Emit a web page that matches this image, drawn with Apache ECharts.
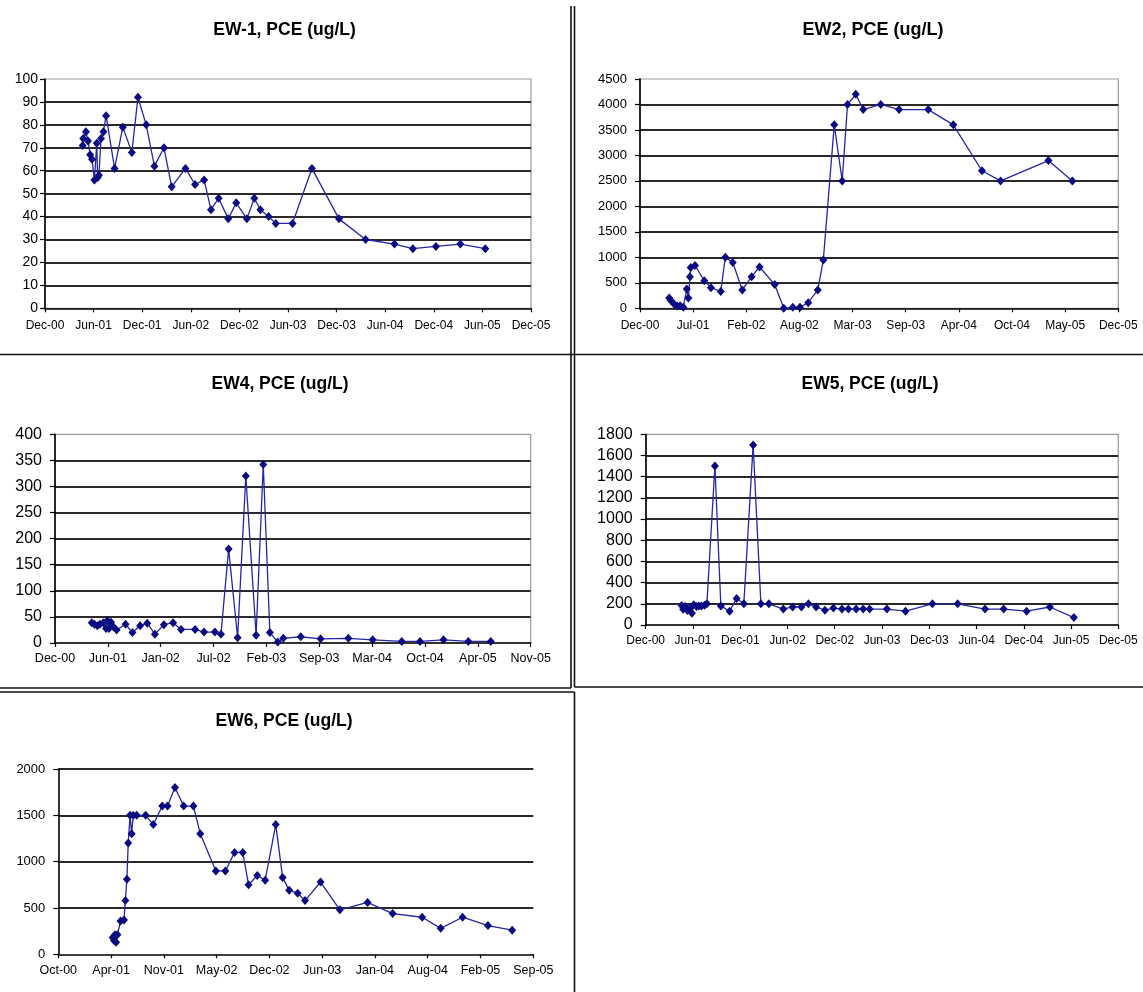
<!DOCTYPE html>
<html>
<head>
<meta charset="utf-8">
<title>PCE concentrations in extraction wells</title>
<script src="https://cdn.jsdelivr.net/npm/echarts@6/dist/echarts.min.js"></script>
<style>
  html, body { margin: 0; padding: 0; background: #fff; }
  #chart { width: 1143px; height: 992px; }
</style>
</head>
<body>
<div id="chart"></div>
<script>
// ---- Sample dates and PCE concentrations (ug/L) for each extraction well ----
const ew1Dates = ['2001-05-06','2001-05-08','2001-05-18','2001-05-26','2001-06-03','2001-06-10','2001-06-19','2001-06-28','2001-07-01','2001-07-06','2001-07-14','2001-07-23','2001-08-02','2001-09-03','2001-10-04','2001-11-07','2001-11-30','2001-12-31','2002-01-31','2002-03-08','2002-04-06','2002-05-28','2002-07-03','2002-08-06','2002-09-01','2002-09-30','2002-11-05','2002-12-05','2003-01-14','2003-02-11','2003-03-06','2003-04-06','2003-05-03','2003-07-05','2003-09-16','2003-12-27','2004-04-05','2004-07-23','2004-09-30','2004-12-26','2005-03-28','2005-06-30'];
const ew1Pce = [71,74,77,73,67,65,56,72,57,58,74,77,84,61,79,68,92,80,62,70,53,61,54,56,43,48,39,46,39,48,43,40,37,37,61,39,30,28,26,27,28,26];

const ew2Dates = ['2001-04-18','2001-04-25','2001-05-06','2001-05-18','2001-05-29','2001-06-10','2001-06-23','2001-06-29','2001-07-05','2001-07-08','2001-07-24','2001-08-28','2001-09-22','2001-10-29','2001-11-15','2001-12-13','2002-01-18','2002-02-22','2002-03-24','2002-05-20','2002-06-23','2002-07-27','2002-08-23','2002-09-23','2002-10-29','2002-11-19','2002-12-30','2003-01-29','2003-02-18','2003-03-21','2003-04-18','2003-06-23','2003-08-31','2003-12-19','2004-03-22','2004-07-08','2004-09-16','2005-03-15','2005-06-13'];
const ew2Pce = [200,150,85,45,50,20,380,200,620,800,840,540,405,330,1000,900,360,620,810,465,0,20,20,110,360,950,3600,2500,4000,4200,3900,4000,3900,3900,3600,2700,2500,2900,2500];

const ew4Dates = ['2001-04-24','2001-05-04','2001-05-15','2001-05-25','2001-06-07','2001-06-17','2001-06-22','2001-06-28','2001-07-06','2001-07-15','2001-07-27','2001-08-30','2001-09-25','2001-10-24','2001-11-20','2001-12-19','2002-01-22','2002-02-26','2002-03-28','2002-05-20','2002-06-23','2002-08-03','2002-08-26','2002-09-24','2002-10-28','2002-11-28','2003-01-06','2003-02-02','2003-02-27','2003-03-29','2003-04-19','2003-06-24','2003-09-07','2003-12-21','2004-03-22','2004-07-10','2004-09-17','2004-12-15','2005-03-19','2005-06-12'];
const ew4Pce = [39,36,33,36,39,28,43,28,40,31,25,36,20,33,38,17,35,39,26,26,21,21,17,180,10,320,15,342,20,2,9,12,8,9,6,3,3,6,3,3];

const ew5Dates = ['2001-05-03','2001-05-09','2001-05-17','2001-05-25','2001-06-04','2001-06-12','2001-06-19','2001-06-30','2001-07-09','2001-07-19','2001-07-31','2001-08-09','2001-09-09','2001-10-02','2001-11-05','2001-12-02','2001-12-30','2002-02-04','2002-03-06','2002-04-06','2002-06-01','2002-07-07','2002-08-10','2002-09-06','2002-10-06','2002-11-09','2002-12-12','2003-01-14','2003-02-08','2003-03-10','2003-04-06','2003-05-01','2003-07-07','2003-09-17','2003-12-30','2004-04-06','2004-07-21','2004-10-01','2004-12-29','2005-03-29','2005-06-30'];
const ew5Pce = [183,148,174,136,158,110,190,174,180,180,186,200,1500,180,130,250,200,1700,200,200,150,170,170,200,170,140,160,150,150,150,150,150,150,130,200,200,150,150,130,170,70];

const ew6Dates = ['2001-04-26','2001-05-01','2001-05-05','2001-05-09','2001-05-14','2001-05-26','2001-06-08','2001-06-13','2001-06-19','2001-06-24','2001-07-01','2001-07-07','2001-07-13','2001-07-26','2001-08-29','2001-09-27','2001-10-31','2001-11-20','2001-12-18','2002-01-20','2002-02-26','2002-03-24','2002-05-22','2002-06-27','2002-08-01','2002-09-01','2002-09-23','2002-10-26','2002-11-25','2003-01-04','2003-01-30','2003-02-24','2003-03-28','2003-04-25','2003-06-23','2003-09-04','2003-12-18','2004-03-22','2004-07-12','2004-09-20','2004-12-12','2005-03-18','2005-06-18'];
const ew6Pce = [180,150,210,130,210,360,370,580,810,1200,1500,1300,1500,1500,1500,1400,1600,1600,1800,1600,1600,1300,900,900,1100,1100,750,850,800,1400,830,690,660,580,780,480,560,440,400,280,400,310,260];

// ---- Date-axis tick labels (each axis starts at its first tick, fixed day step) ----
const ew1Ticks = ['Dec-00','Jun-01','Dec-01','Jun-02','Dec-02','Jun-03','Dec-03','Jun-04','Dec-04','Jun-05','Dec-05'];
const ew2Ticks = ['Dec-00','Jul-01','Feb-02','Aug-02','Mar-03','Sep-03','Apr-04','Oct-04','May-05','Dec-05'];
const ew4Ticks = ['Dec-00','Jun-01','Jan-02','Jul-02','Feb-03','Sep-03','Mar-04','Oct-04','Apr-05','Nov-05'];
const ew5Ticks = ['Dec-00','Jun-01','Dec-01','Jun-02','Dec-02','Jun-03','Dec-03','Jun-04','Dec-04','Jun-05','Dec-05'];
const ew6Ticks = ['Oct-00','Apr-01','Nov-01','May-02','Dec-02','Jun-03','Jan-04','Aug-04','Feb-05','Sep-05'];

const ew1AxisStart = '2000-12-15', ew1StepDays = 183;
const ew2AxisStart = '2000-12-29', ew2StepDays = 200;
const ew4AxisStart = '2000-12-06', ew4StepDays = 200;
const ew5AxisStart = '2000-12-15', ew5StepDays = 183;
const ew6AxisStart = '2000-10-02', ew6StepDays = 200;

// concentration axes: [max, step]
const ew1YAxis = [100, 10];
const ew2YAxis = [4500, 500];
const ew4YAxis = [400, 50];
const ew5YAxis = [1800, 200];
const ew6YAxis = [2000, 500];

// ---- Layout of the five panels ----
const FONT = '"Liberation Sans", Arial, Helvetica, sans-serif';
const DAY = 86400000;

const panels = [
  { title: 'EW-1, PCE (ug/L)', dates: ew1Dates, pce: ew1Pce, ticks: ew1Ticks, start: ew1AxisStart, step: ew1StepDays, y: ew1YAxis,
    grid: [45, 79, 486, 229.3], frame: true, yFont: 14, yMargin: 7, xFont: 12, xMargin: 11,
    titlePos: [279.5, 16], titleSize: 17.5 },
  { title: 'EW2, PCE (ug/L)', dates: ew2Dates, pce: ew2Pce, ticks: ew2Ticks, start: ew2AxisStart, step: ew2StepDays, y: ew2YAxis,
    grid: [640, 79, 478.3, 229.3], frame: true, yFont: 13, yMargin: 13, xFont: 12, xMargin: 11,
    titlePos: [868, 16], titleSize: 18 },
  { title: 'EW4, PCE (ug/L)', dates: ew4Dates, pce: ew4Pce, ticks: ew4Ticks, start: ew4AxisStart, step: ew4StepDays, y: ew4YAxis,
    grid: [55, 434.3, 475.7, 208.7], frame: true, yFont: 16, yMargin: 13, xFont: 12.5, xMargin: 9,
    titlePos: [275, 370], titleSize: 17.5 },
  { title: 'EW5, PCE (ug/L)', dates: ew5Dates, pce: ew5Pce, ticks: ew5Ticks, start: ew5AxisStart, step: ew5StepDays, y: ew5YAxis,
    grid: [645.7, 434.3, 472.6, 190.7], frame: true, yFont: 16, yMargin: 13, xFont: 12, xMargin: 10,
    titlePos: [865, 370], titleSize: 17.5 },
  { title: 'EW6, PCE (ug/L)', dates: ew6Dates, pce: ew6Pce, ticks: ew6Ticks, start: ew6AxisStart, step: ew6StepDays, y: ew6YAxis,
    grid: [58.3, 769, 475, 185.3], frame: false, yFont: 13, yMargin: 13, xFont: 12.5, xMargin: 10,
    titlePos: [279, 707], titleSize: 17.5 }
];

function daysFrom(start, date) {
  return (Date.parse(date) - Date.parse(start)) / DAY;
}

const LINE_COLOR = '#2626aa';
const MARK_COLOR = '#0a0a82';
const GRID_COLOR = '#2a2a2a';
const FRAME_COLOR = '#9a9a9a';

// thin rules separating the pasted chart boxes
const RULE = { stroke: '#111', lineWidth: 1.6 };
const rules = [
  [571, 6, 571, 688],
  [574.5, 6, 574.5, 687],
  [0, 354.5, 1143, 354.5],
  [0, 688, 571, 688],
  [574.5, 687, 1143, 687],
  [0, 692, 574.5, 692],
  [574.5, 692, 574.5, 992]
];

const option = {
  animation: false,
  backgroundColor: '#ffffff',
  title: panels.map(p => ({
    text: p.title,
    left: p.titlePos[0],
    top: p.titlePos[1],
    textAlign: 'center',
    textStyle: { fontFamily: FONT, fontWeight: 'bold', fontSize: p.titleSize, color: '#000' }
  })),
  grid: panels.map(p => ({
    left: p.grid[0], top: p.grid[1], width: p.grid[2], height: p.grid[3],
    show: p.frame, borderColor: FRAME_COLOR, borderWidth: 1.2, backgroundColor: 'transparent'
  })),
  xAxis: panels.map((p, i) => ({
    type: 'value',
    gridIndex: i,
    min: 0,
    max: p.step * (p.ticks.length - 1),
    interval: p.step,
    axisLine: { show: true, onZero: false, lineStyle: { color: '#000', width: 1.6 } },
    axisTick: { show: true, inside: false, length: 4, lineStyle: { color: '#000', width: 1.2 } },
    axisLabel: {
      formatter: v => p.ticks[Math.round(v / p.step)] || '',
      fontFamily: FONT, fontSize: p.xFont, color: '#000', margin: p.xMargin
    },
    splitLine: { show: false }
  })),
  yAxis: panels.map((p, i) => ({
    type: 'value',
    gridIndex: i,
    min: 0,
    max: p.y[0],
    interval: p.y[1],
    axisLine: { show: true, onZero: false, lineStyle: { color: '#000', width: 1.6 } },
    axisTick: { show: true, inside: false, length: 5, lineStyle: { color: '#000', width: 1.2 } },
    axisLabel: {
      formatter: v => String(v),
      fontFamily: FONT, fontSize: p.yFont, color: '#000', margin: p.yMargin
    },
    splitLine: {
      show: true,
      showMinLine: false,
      showMaxLine: !p.frame,
      lineStyle: { color: GRID_COLOR, width: 1.8 }
    }
  })),
  series: panels.map((p, i) => ({
    type: 'line',
    name: p.title,
    xAxisIndex: i,
    yAxisIndex: i,
    data: p.dates.map((d, k) => [daysFrom(p.start, d), p.pce[k]]),
    symbol: 'diamond',
    symbolSize: [8, 9],
    showSymbol: true,
    lineStyle: { color: LINE_COLOR, width: 1.3 },
    itemStyle: { color: MARK_COLOR },
    emphasis: { disabled: true },
    z: 3
  })),
  graphic: rules.map(r => ({
    type: 'line',
    silent: true,
    shape: { x1: r[0], y1: r[1], x2: r[2], y2: r[3] },
    style: RULE
  }))
};

const chart = echarts.init(document.getElementById('chart'), null, { renderer: 'canvas' });
chart.setOption(option);
</script>
</body>
</html>
